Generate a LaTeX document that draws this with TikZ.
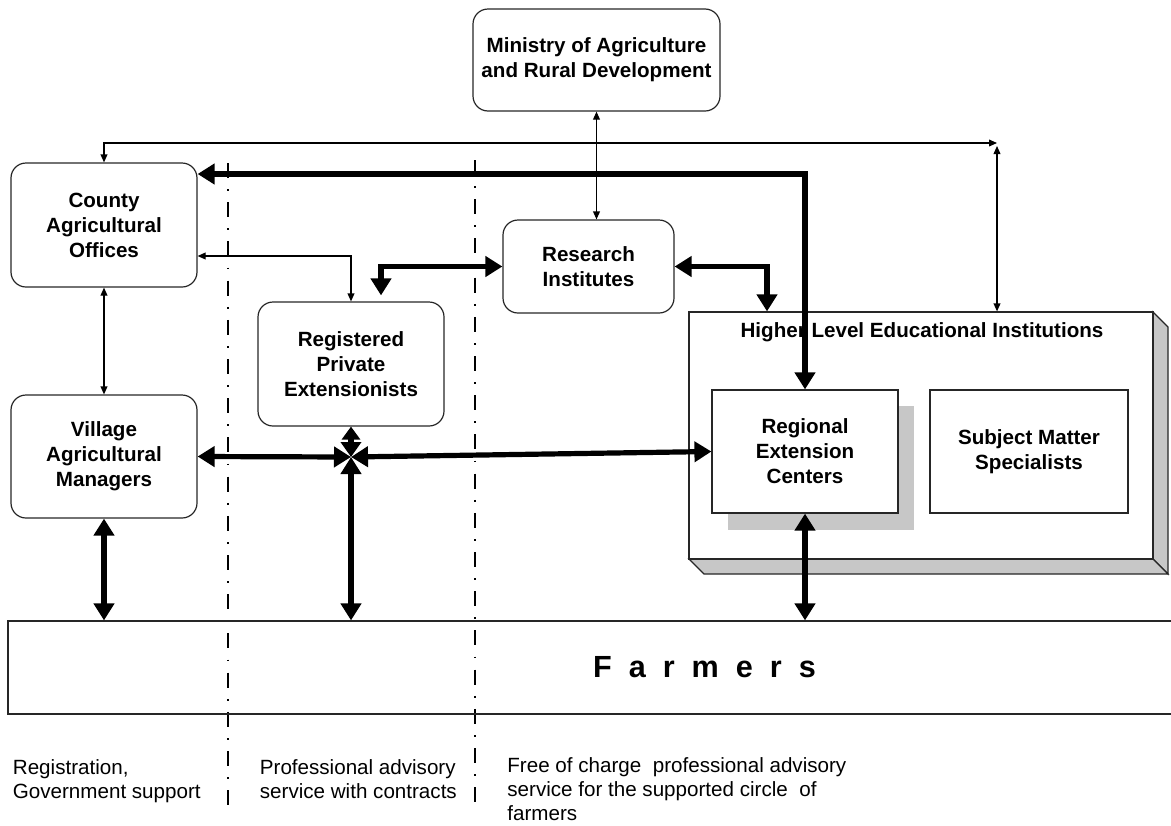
\documentclass[tikz,border=0pt]{standalone}
\usepackage{fontspec}
\setmainfont{Liberation Sans}
\usetikzlibrary{arrows.meta}
\definecolor{shadegray}{gray}{0.78}
\tikzset{
	unit/.style={draw=black!85, line width=0.6pt, rounded corners=7.5pt, align=center, font=\fontsize{10.3}{12.5}\selectfont\bfseries},
	plainbox/.style={draw=black!85, line width=0.6pt, align=center, fill=white, font=\fontsize{10.3}{12.5}\selectfont\bfseries},
	sidewall/.style={fill=shadegray, draw=black!85, line width=0.6pt},
	thinlink/.style={line width=0.6pt, {Triangle[length=4pt,width=3.4pt]}-{Triangle[length=4pt,width=3.4pt]}},
	thicklink/.style={line width=2.6pt, {Triangle[length=8.5pt,width=10pt]}-{Triangle[length=8.5pt,width=10pt]}},
	shortlink/.style={line width=2.6pt, {Triangle[length=6.5pt,width=9pt]}-{Triangle[length=7.5pt,width=10pt]}},
	divider/.style={line width=0.9pt, dash pattern=on 7.5pt off 5.6pt on 0.9pt off 5.6pt},
	note/.style={anchor=north west, inner sep=0pt, align=left, font=\fontsize{10.3}{12}\selectfont}
}
\begin{document}
\begin{tikzpicture}[x=0.5pt,y=-0.5pt]
		\path[use as bounding box] (0,0) rectangle (1171,825);
		\clip (0,0) rectangle (1171,825);
		% separators of the three service zones
		\draw[divider] (228,163) -- (228,805);
		\draw[divider] (475,160) -- (475,805);
		\node[unit, minimum width=123.5pt, minimum height=51pt] (ministry) at (596.5,60) {Ministry of Agriculture\\and Rural Development};
		\node[unit, minimum width=93pt, minimum height=62pt] (county) at (104,225) {County\\Agricultural\\Offices};
		\node[unit, minimum width=93pt, minimum height=61.5pt] (village) at (104,456.5) {Village\\Agricultural\\Managers};
		\node[unit, minimum width=93pt, minimum height=62pt] (private) at (351,364) {Registered\\Private\\Extensionists};
		\node[unit, minimum width=85.5pt, minimum height=46.5pt] (research) at (588.5,266.5) {Research\\Institutes};
		% higher level institutions, drawn as a block
		\filldraw[sidewall] (1153,312) -- ++(15,15) -- ++(0,247) -- ++(-15,-15) -- cycle;
		\filldraw[sidewall] (689,559) -- ++(15,15) -- ++(464,0) -- ++(-15,-15) -- cycle;
		\node[plainbox, minimum width=232pt, minimum height=123.5pt] (hlei) at (921,435.5) {};
		\node[font=\fontsize{10.3}{12.5}\selectfont\bfseries] (hleititle) at (922,332) {Higher Level Educational Institutions};
		\fill[shadegray] (728,406) rectangle (914,530);
		\node[plainbox, minimum width=93pt, minimum height=61.5pt] (regional) at (805,451.5) {Regional\\Extension\\Centers};
		\node[plainbox, minimum width=99pt, minimum height=61.5pt] (sms) at (1029,451.5) {Subject Matter\\Specialists};
		\node[draw=black!85, line width=0.6pt, minimum width=696.5pt, minimum height=46.5pt, font=\fontsize{15.3}{18}\selectfont\bfseries] (farmers) at (704.5,667.5) {\spaceskip=8.5pt plus 0pt\relax F a r m e r s};
		\coordinate (apex) at (997,143);
		\coordinate (hub) at (351,457);
		% links
		\draw[thinlink] (county.north) |- (apex);
		\draw[thinlink] ([yshift=-1.5pt]apex) -- (apex |- hlei.north);
		\draw[thinlink] (ministry.south) -- (ministry.south |- research.north);
		\draw[thinlink] (county.east |- 0,256) -| (private.north);
		\draw[thinlink] (county.south) -- (village.north);
		\draw[thicklink] (county.east |- 0,174) -| (regional.north);
		\draw[thicklink] (research.west) -| ([xshift=15pt,yshift=3pt]private.north);
		\draw[thicklink] (research.east) -| ([xshift=-77pt]hlei.north);
		\draw[thicklink] (village.east) -- (hub);
		\draw[thicklink] (regional.west) -- (hub);
		\draw[thicklink] (hub |- farmers.north) -- (hub);
		\draw[shortlink] (private.south) -- (hub);
		\draw[thicklink] (village.south) -- (village.south |- farmers.north);
		\draw[thicklink] (regional.south) -- (regional.south |- farmers.north);
		% zone notes
		\node[note] (zoneone) at (12.5,759.5) {Registration,\\Government support};
		\node[note] (zonetwo) at (259.5,759.5) {Professional advisory\\service with contracts};
		\node[note] (zonethree) at (507,757) {Free of charge\ \ professional advisory\\service for the supported circle\ \ of\\farmers};
\end{tikzpicture}
\end{document}
